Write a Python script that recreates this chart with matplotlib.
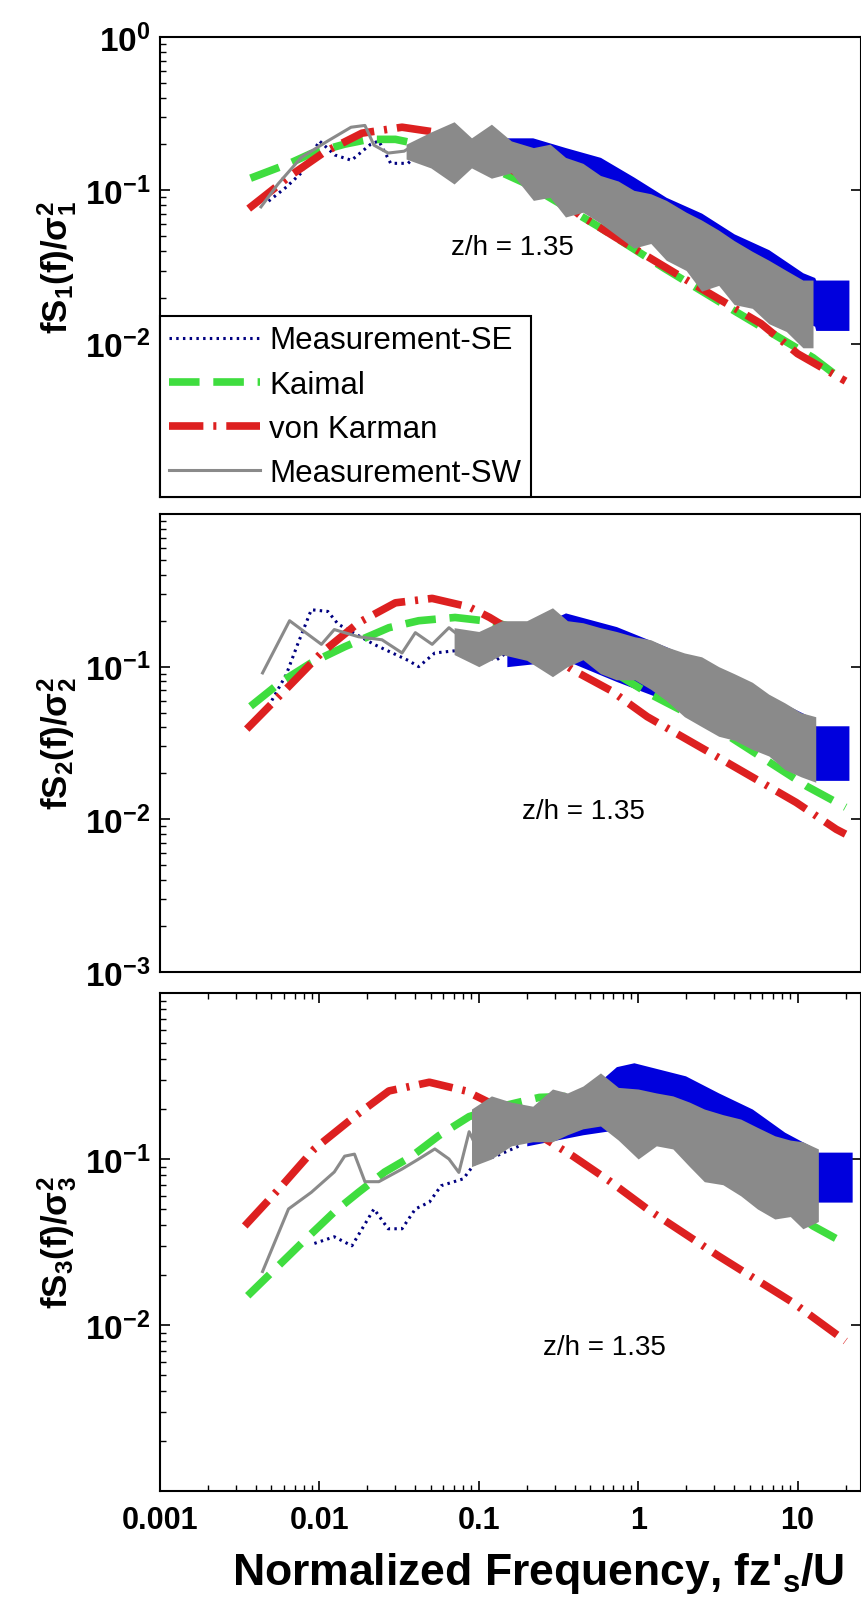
import math
import matplotlib
matplotlib.use('Agg')
import matplotlib.pyplot as plt
from matplotlib.lines import Line2D
from matplotlib.ticker import LogLocator, NullFormatter

plt.rcParams['font.family'] = ['Liberation Sans', 'DejaVu Sans']
plt.rcParams['mathtext.fontset'] = 'custom'
plt.rcParams['mathtext.rm'] = 'Liberation Sans'
plt.rcParams['mathtext.it'] = 'Liberation Sans:italic'
plt.rcParams['mathtext.bf'] = 'Liberation Sans:bold'

# ---- panel 1 (u component) ----
kai1_x = [0.0037, 0.0065, 0.0089, 0.0144, 0.0204, 0.03, 0.042, 0.068, 0.122, 0.2, 0.35, 0.58, 1.46, 4.0, 12.5, 19.5]
kai1_y = [0.12, 0.15, 0.174, 0.2, 0.215, 0.215, 0.2, 0.174, 0.139, 0.11, 0.078, 0.057, 0.031, 0.0164, 0.0081, 0.0057]
vk1_x = [0.0036, 0.0066, 0.0107, 0.0185, 0.033, 0.059, 0.14, 0.266, 0.43, 0.73, 2.04, 5.9, 10, 20]
vk1_y = [0.076, 0.125, 0.177, 0.236, 0.258, 0.236, 0.146, 0.104, 0.069, 0.049, 0.0258, 0.0135, 0.0086, 0.0057]
se1_x = [0.0048, 0.0062, 0.0077, 0.01, 0.0125, 0.0159, 0.021, 0.0236, 0.028, 0.036, 0.042, 0.055, 0.07, 0.09, 0.11]
se1_y = [0.085, 0.105, 0.13, 0.21, 0.17, 0.157, 0.2, 0.21, 0.15, 0.15, 0.175, 0.15, 0.2, 0.17, 0.19]
sw1_x = [0.0043, 0.0055, 0.0077, 0.0113, 0.0158, 0.0193, 0.022, 0.027, 0.034, 0.04]
sw1_y = [0.078, 0.11, 0.164, 0.21, 0.258, 0.265, 0.197, 0.175, 0.18, 0.2]
seb1_x = [0.1, 0.15, 0.218, 0.35, 0.58, 0.94, 1.5, 2.5, 4.0, 6.6, 10.8, 12.8, 13.0, 21]
seb1_hi = [0.2, 0.22, 0.22, 0.19, 0.164, 0.122, 0.09, 0.071, 0.052, 0.041, 0.029, 0.027, 0.026, 0.026]
seb1_lo = [0.15, 0.15, 0.12, 0.1, 0.08, 0.06, 0.045, 0.03, 0.024, 0.018, 0.014, 0.013, 0.0122, 0.0122]
swb1_x = [0.035, 0.05, 0.07, 0.09, 0.12, 0.16, 0.22, 0.28, 0.35, 0.45, 0.58, 0.75, 0.94, 1.2, 1.5, 2.0, 2.5, 3.2, 4.0, 5.2, 6.6, 8.5, 10.8, 12.5]
swb1_hi = [0.2, 0.24, 0.28, 0.22, 0.27, 0.21, 0.19, 0.2, 0.164, 0.15, 0.125, 0.115, 0.1, 0.095, 0.086, 0.072, 0.064, 0.055, 0.047, 0.04, 0.035, 0.03, 0.026, 0.026]
swb1_lo = [0.16, 0.14, 0.11, 0.14, 0.12, 0.13, 0.086, 0.09, 0.067, 0.072, 0.061, 0.05, 0.042, 0.045, 0.035, 0.03, 0.022, 0.024, 0.018, 0.017, 0.0135, 0.012, 0.0094, 0.0094]

# ---- panel 2 (v component) ----
kai2_x = [0.0037, 0.0057, 0.0089, 0.0144, 0.0273, 0.042, 0.071, 0.122, 0.25, 0.5, 1.14, 3.2, 11.5, 20]
kai2_y = [0.055, 0.079, 0.106, 0.135, 0.18, 0.2, 0.21, 0.197, 0.16, 0.114, 0.0676, 0.0387, 0.0164, 0.012]
vk2_x = [0.0035, 0.006, 0.0103, 0.0176, 0.03, 0.051, 0.087, 0.117, 0.2, 0.39, 0.67, 1.14, 3.34, 9.8, 17.5, 20]
vk2_y = [0.039, 0.069, 0.123, 0.194, 0.262, 0.28, 0.246, 0.21, 0.15, 0.095, 0.07, 0.047, 0.0247, 0.0129, 0.0086, 0.008]
se2_x = [0.0048, 0.0062, 0.0073, 0.0089, 0.0113, 0.0131, 0.022, 0.036, 0.042, 0.053, 0.087, 0.128, 0.16]
se2_y = [0.055, 0.089, 0.14, 0.236, 0.23, 0.19, 0.14, 0.11, 0.1, 0.123, 0.13, 0.11, 0.13]
sw2_x = [0.0044, 0.0065, 0.0103, 0.0124, 0.0176, 0.0247, 0.033, 0.04, 0.051, 0.065, 0.075]
sw2_y = [0.091, 0.2, 0.14, 0.175, 0.157, 0.15, 0.123, 0.167, 0.14, 0.18, 0.16]
seb2_x = [0.15, 0.35, 0.73, 1.5, 3.2, 6.6, 12, 13, 21]
seb2_hi = [0.15, 0.225, 0.183, 0.135, 0.095, 0.064, 0.047, 0.041, 0.041]
seb2_lo = [0.1, 0.11, 0.08, 0.06, 0.04, 0.03, 0.02, 0.018, 0.018]
swb2_x = [0.07, 0.1, 0.14, 0.2, 0.29, 0.36, 0.45, 0.58, 0.73, 0.95, 1.2, 1.5, 1.95, 2.5, 3.2, 4.0, 5.2, 6.6, 8.3, 10.5, 13]
swb2_hi = [0.18, 0.17, 0.2, 0.2, 0.243, 0.2, 0.194, 0.18, 0.17, 0.157, 0.15, 0.135, 0.123, 0.116, 0.1, 0.09, 0.079, 0.066, 0.058, 0.05, 0.047]
swb2_lo = [0.12, 0.1, 0.12, 0.11, 0.086, 0.1, 0.111, 0.09, 0.082, 0.082, 0.071, 0.06, 0.047, 0.0405, 0.035, 0.033, 0.0287, 0.026, 0.0212, 0.019, 0.0175]

# ---- panel 3 (w component) ----
kai3_x = [0.00355, 0.0085, 0.0124, 0.0176, 0.0257, 0.038, 0.056, 0.087, 0.14, 0.24, 0.45, 1.0, 2.0, 5.0, 12.5, 17.6]
kai3_y = [0.015, 0.034, 0.048, 0.063, 0.0835, 0.104, 0.138, 0.18, 0.208, 0.235, 0.24, 0.19, 0.14, 0.076, 0.0395, 0.033]
vk3_x = [0.0034, 0.0058, 0.0093, 0.0166, 0.0273, 0.049, 0.083, 0.122, 0.2, 0.39, 0.67, 1.14, 3.2, 9.3, 20]
vk3_y = [0.0395, 0.0688, 0.115, 0.18, 0.257, 0.29, 0.257, 0.214, 0.155, 0.104, 0.073, 0.05, 0.026, 0.0137, 0.008]
se3_x = [0.0093, 0.0124, 0.016, 0.022, 0.027, 0.033, 0.04, 0.049, 0.058, 0.08, 0.096, 0.128, 0.18]
se3_y = [0.031, 0.034, 0.03, 0.05, 0.038, 0.038, 0.05, 0.055, 0.069, 0.076, 0.096, 0.104, 0.12]
sw3_x = [0.0044, 0.0064, 0.0089, 0.0124, 0.0144, 0.0166, 0.0193, 0.0236, 0.033, 0.042, 0.053, 0.065, 0.075, 0.087, 0.1]
sw3_y = [0.021, 0.05, 0.063, 0.0835, 0.104, 0.107, 0.073, 0.073, 0.087, 0.1, 0.115, 0.1, 0.083, 0.146, 0.11]
seb3_x = [0.2, 0.45, 0.73, 0.94, 1.98, 3.2, 5.2, 8.3, 12, 13, 22]
seb3_hi = [0.18, 0.24, 0.36, 0.38, 0.317, 0.25, 0.2, 0.145, 0.12, 0.11, 0.11]
seb3_lo = [0.12, 0.14, 0.15, 0.15, 0.12, 0.09, 0.07, 0.055, 0.05, 0.055, 0.055]
swb3_x = [0.09, 0.12, 0.16, 0.218, 0.29, 0.36, 0.45, 0.58, 0.75, 1.0, 1.3, 1.65, 2.1, 2.6, 3.4, 4.4, 5.6, 7.2, 9.0, 10.8, 13.5]
swb3_hi = [0.2, 0.24, 0.22, 0.208, 0.264, 0.25, 0.275, 0.33, 0.27, 0.264, 0.25, 0.24, 0.22, 0.2, 0.185, 0.174, 0.155, 0.138, 0.13, 0.127, 0.115]
swb3_lo = [0.09, 0.1, 0.12, 0.127, 0.127, 0.14, 0.152, 0.158, 0.13, 0.1, 0.12, 0.115, 0.09, 0.073, 0.07, 0.06, 0.05, 0.0435, 0.045, 0.038, 0.042]

ylabels = [r'$\mathbf{fS_1(f)/\sigma_1^2}$', r'$\mathbf{fS_2(f)/\sigma_2^2}$', r'$\mathbf{fS_3(f)/\sigma_3^2}$']
ytick_sets = [[1, 0.1, 0.01], [0.1, 0.01, 0.001], [0.1, 0.01]]
xticks = [0.001, 0.01, 0.1, 1, 10]
xticklabels = ['0.001', '0.01', '0.1', '1', '10']
note = 'z/h = 1.35'
note_pos = [(0.503, 0.543), (0.604, 0.352), (0.634, 0.29)]

SE_C = '#000080'
SE_BAND = '#0000dd'
SW_C = '#8a8a8a'
KAI_C = '#3fdd3f'
VK_C = '#dd2020'

panels = [
    (kai1_x, kai1_y, vk1_x, vk1_y, se1_x, se1_y, sw1_x, sw1_y,
     seb1_x, seb1_hi, seb1_lo, swb1_x, swb1_hi, swb1_lo),
    (kai2_x, kai2_y, vk2_x, vk2_y, se2_x, se2_y, sw2_x, sw2_y,
     seb2_x, seb2_hi, seb2_lo, swb2_x, swb2_hi, swb2_lo),
    (kai3_x, kai3_y, vk3_x, vk3_y, se3_x, se3_y, sw3_x, sw3_y,
     seb3_x, seb3_hi, seb3_lo, swb3_x, swb3_hi, swb3_lo),
]

W, H = 862, 1615
boxes = [(38, 498), (515, 973), (994, 1492)]
left, right = 160, 861

fig = plt.figure(figsize=(W / 100, H / 100), dpi=100)
axes = []
for i, (top, bot) in enumerate(boxes):
    ax = fig.add_axes([left / W, 1 - bot / H, (right - left) / W, (bot - top) / H])
    axes.append(ax)
    (kx, ky, vx, vy, sx, sy, wx, wy, bx, bhi, blo, gx, ghi, glo) = panels[i]

    ax.fill_between(bx, blo, bhi, color=SE_BAND, lw=0, zorder=2)
    ax.plot(sx, sy, color=SE_C, lw=2.2, dashes=(0.8, 1.4), zorder=3)
    ax.plot(kx, ky, color=KAI_C, lw=5.5, dashes=(4, 1.8), solid_capstyle='butt', zorder=4)
    ax.plot(vx, vy, color=VK_C, lw=5.5, dashes=(4.5, 1.3, 0.4, 1.3), zorder=5)
    ax.plot(wx, wy, color=SW_C, lw=2.2, zorder=6)
    ax.fill_between(gx, glo, ghi, color=SW_C, lw=0, zorder=6)

    ax.set_xscale('log')
    ax.set_yscale('log')
    ax.set_xlim(1e-3, 25)
    ax.set_ylim(1e-3, 1)

    yt = ytick_sets[i]
    ax.set_yticks(yt)
    ax.set_yticklabels([r'$\mathbf{10^{%d}}$' % round(math.log10(v)) for v in yt],
                       fontsize=24)
    ax.yaxis.set_minor_locator(LogLocator(base=10, subs=range(2, 10)))
    ax.yaxis.set_minor_formatter(NullFormatter())
    ax.tick_params(axis='y', which='major', direction='in', length=7, width=1.2,
                   right=True, pad=7)
    ax.tick_params(axis='y', which='minor', direction='in', length=4, width=1,
                   right=False)

    if i == 2:
        ax.set_xticks(xticks)
        ax.set_xticklabels(xticklabels, fontsize=22, fontweight='bold')
        ax.xaxis.set_minor_locator(LogLocator(base=10, subs=range(2, 10)))
        ax.xaxis.set_minor_formatter(NullFormatter())
        ax.tick_params(axis='x', which='major', direction='in', length=7, width=1.2,
                       top=True, pad=10)
        ax.tick_params(axis='x', which='minor', direction='in', length=4, width=1,
                       top=True)
        ax.set_xlabel("Normalized Frequency, fz'$_\\mathbf{s}$/U", fontsize=32,
                      fontweight='bold')
        ax.xaxis.set_label_coords(0.54, -0.118)
    else:
        ax.tick_params(axis='x', which='both', length=0, labelbottom=False)

    ax.set_ylabel(ylabels[i], fontsize=25)
    ax.yaxis.set_label_coords(-0.115, 0.5)
    ax.text(note_pos[i][0], note_pos[i][1], note, transform=ax.transAxes,
            ha='center', va='center', fontsize=20, zorder=8)
    for sp in ax.spines.values():
        sp.set_linewidth(1.5)

handles = [
    Line2D([], [], color=SE_C, lw=2.2, dashes=(0.8, 1.4)),
    Line2D([], [], color=KAI_C, lw=5.5, dashes=(4, 1.8)),
    Line2D([], [], color=VK_C, lw=5.5, dashes=(4.5, 1.3, 0.4, 1.3)),
    Line2D([], [], color=SW_C, lw=2.2),
]
labels = ['Measurement-SE', 'Kaimal', 'von Karman', 'Measurement-SW']
leg = axes[0].legend(handles, labels, loc='lower left', bbox_to_anchor=(0, 0),
                     borderaxespad=0, fontsize=22.5, handlelength=2.9,
                     handletextpad=0.3, labelspacing=0.45, borderpad=0.3,
                     fancybox=False, framealpha=1, edgecolor='black')
leg.get_frame().set_linewidth(1.5)
leg.set_zorder(10)

fig.savefig('out.png', dpi=100)
